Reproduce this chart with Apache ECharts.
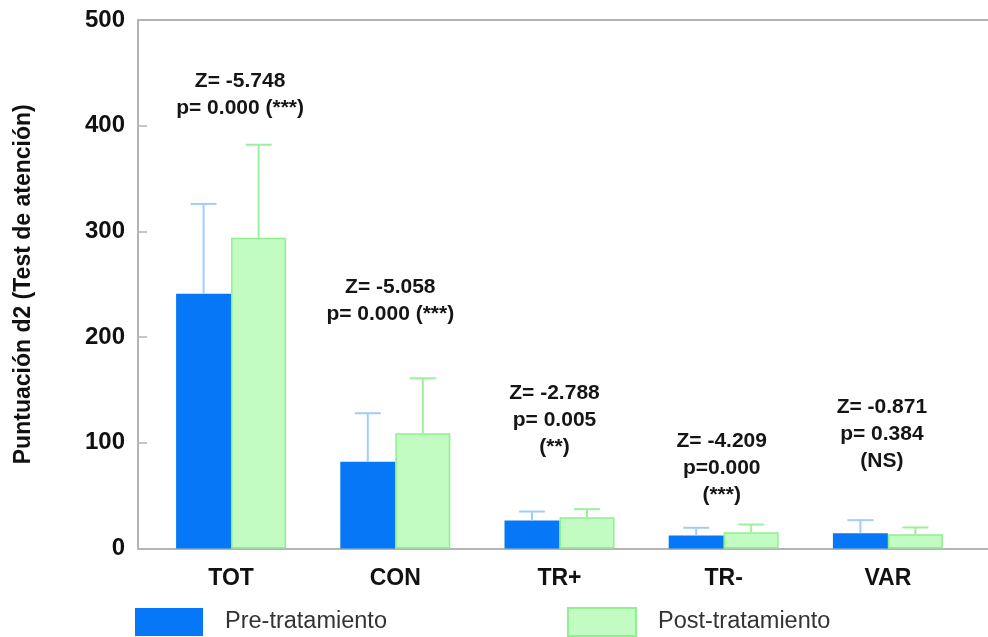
<!DOCTYPE html>
<html>
<head>
<meta charset="utf-8">
<script src="https://cdn.jsdelivr.net/npm/echarts@6/dist/echarts.min.js"></script>
<style>
  html, body { margin: 0; padding: 0; background: #fff; }
  #chart { width: 988px; height: 637px; }
</style>
</head>
<body>
<div id="chart"></div>
<script>
// datos
const categories = ['TOT', 'CON', 'TR+', 'TR-', 'VAR'];
const preMean = [241, 82, 26.5, 12.3, 14.5];
const preSd = [85, 46, 8.5, 7.3, 12.3];
const postMean = [294, 109, 29.6, 15.4, 13.5];
const postSd = [88, 52, 7.6, 7.3, 6.4];
const yTicks = [0, 100, 200, 300, 400, 500];

// anotaciones estadisticas (texto y altura del bloque en unidades del eje)
const statZ = ['Z= -5.748', 'Z= -5.058', 'Z= -2.788', 'Z= -4.209', 'Z= -0.871'];
const statP = ['p= 0.000 (***)', 'p= 0.000 (***)', 'p= 0.005', 'p=0.000', 'p= 0.384'];
const statSig = ['', '', '(**)', '(***)', '(NS)'];
const statY = [429.5, 234.6, 121.6, 76, 108.3];

const FONT = "'Liberation Sans', Arial, sans-serif";
const AXIS_COLOR = '#b4b4b4';
const BAR_W = 55;

let chart = echarts.init(document.getElementById('chart'));

function errorItem(side, color) {
  return function (params, api) {
    const i = api.value(0);
    const m = api.value(1);
    const s = api.value(2);
    const base = api.coord([i, m]);
    const top = api.coord([i, m + s]);
    const cx = base[0] + side * BAR_W / 2;
    const style = { stroke: color, lineWidth: 2 };
    return {
      type: 'group',
      children: [
        { type: 'line', shape: { x1: cx, y1: base[1], x2: cx, y2: top[1] }, style: style },
        { type: 'line', shape: { x1: cx - 13, y1: top[1], x2: cx + 13, y2: top[1] }, style: style }
      ]
    };
  };
}

const labelShift = [9, -5, -5, -2, -6];

chart.setOption({
  animation: false,
  backgroundColor: '#fff',
  textStyle: { fontFamily: FONT },
  legend: {
    data: ['Pre-tratamiento', 'Post-tratamiento'],
    left: 135,
    top: 607,
    padding: 0,
    itemWidth: 68,
    itemHeight: 28,
    itemGap: 180,
    icon: 'rect',
    textStyle: { fontFamily: FONT, fontSize: 23.5, color: '#333', padding: [9, 0, 0, 17] }
  },
  grid: [
    { left: 138, right: 0, top: 20, bottom: 88.5 },
    { left: 149, right: 18, top: 20, bottom: 88.5 }
  ],
  xAxis: [
    {
      type: 'value', gridIndex: 0, position: 'bottom', min: 0, max: 1,
      axisLine: { lineStyle: { color: AXIS_COLOR, width: 2 } },
      axisTick: { show: false }, axisLabel: { show: false }, splitLine: { show: false }
    },
    {
      type: 'value', gridIndex: 0, position: 'top', min: 0, max: 1,
      axisLine: { lineStyle: { color: AXIS_COLOR, width: 2 } },
      axisTick: { show: false }, axisLabel: { show: false }, splitLine: { show: false }
    },
    {
      type: 'category', gridIndex: 1, data: categories,
      axisLine: { show: false }, axisTick: { show: false },
      axisLabel: { fontFamily: FONT, fontSize: 23, fontWeight: 'bold', color: '#111', margin: 19 }
    }
  ],
  yAxis: [
    {
      type: 'value', gridIndex: 0,
      min: yTicks[0], max: yTicks[yTicks.length - 1], interval: 100,
      name: 'Puntuación d2 (Test de atención)',
      nameLocation: 'middle',
      nameGap: 103,
      nameTextStyle: { fontFamily: FONT, fontSize: 23, fontWeight: 'bold', color: '#111' },
      axisLine: { show: true, lineStyle: { color: AXIS_COLOR, width: 2 } },
      axisTick: { show: true, inside: true, length: 9, lineStyle: { color: AXIS_COLOR, width: 1.5 } },
      axisLabel: { fontFamily: FONT, fontSize: 24, fontWeight: 'bold', color: '#111', margin: 13 },
      splitLine: { show: false }
    },
    {
      type: 'value', gridIndex: 1,
      min: yTicks[0], max: yTicks[yTicks.length - 1], interval: 100,
      show: false
    }
  ],
  series: [
    {
      name: 'Pre-tratamiento', type: 'bar', xAxisIndex: 2, yAxisIndex: 1,
      barWidth: BAR_W, barGap: '0%',
      itemStyle: { color: '#0677f6' },
      data: preMean
    },
    {
      name: 'Post-tratamiento', type: 'bar', xAxisIndex: 2, yAxisIndex: 1,
      barWidth: BAR_W, barGap: '0%',
      itemStyle: { color: '#c2fcc2', borderColor: '#8ff08f', borderWidth: 1.5 },
      data: postMean
    },
    {
      name: 'errPre', type: 'custom', xAxisIndex: 2, yAxisIndex: 1, z: 3, silent: true,
      renderItem: errorItem(-1, '#a2ccfb'),
      data: preMean.map((m, i) => [i, m, preSd[i]])
    },
    {
      name: 'errPost', type: 'custom', xAxisIndex: 2, yAxisIndex: 1, z: 3, silent: true,
      renderItem: errorItem(1, '#9cef9c'),
      data: postMean.map((m, i) => [i, m, postSd[i]])
    },
    {
      name: 'stats', type: 'scatter', xAxisIndex: 2, yAxisIndex: 1, silent: true,
      symbolSize: 0,
      itemStyle: { opacity: 1 },
      data: statY.map((y, i) => ({
        value: [i, y],
        label: { offset: [labelShift[i], 0] }
      })),
      label: {
        show: true,
        position: 'inside',
        align: 'center',
        verticalAlign: 'middle',
        fontFamily: FONT,
        fontSize: 21,
        fontWeight: 'bold',
        color: '#151515',
        opacity: 1,
        textBorderWidth: 0,
        textBorderColor: 'transparent',
        lineHeight: 27,
        formatter: function (p) {
          const i = p.dataIndex;
          return [statZ[i], statP[i], statSig[i]].filter(Boolean).join('\n');
        }
      }
    }
  ]
});
</script>
</body>
</html>
